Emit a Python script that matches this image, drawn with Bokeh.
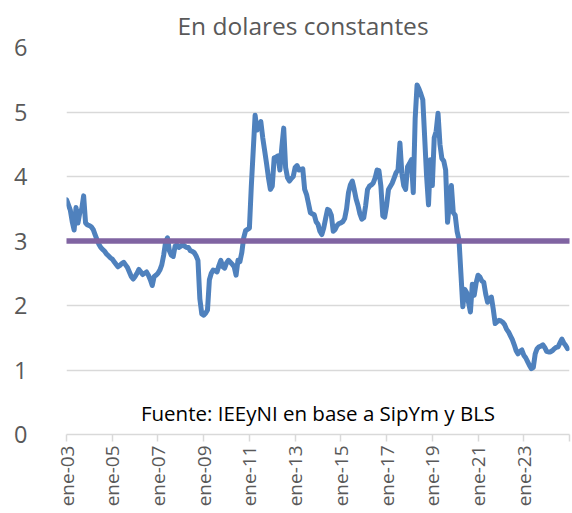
import math
from bokeh.plotting import figure
from bokeh.models import Range1d, FixedTicker, Label, ColumnDataSource
from bokeh.embed import file_html
from bokeh.resources import INLINE

title_text = "En dolares constantes"
source_text = "Fuente: IEEyNI en base a SipYm y BLS"
start_year = 2003
end_year = 2025
tick_labels = ["ene-03", "ene-05", "ene-07", "ene-09", "ene-11", "ene-13",
               "ene-15", "ene-17", "ene-19", "ene-21", "ene-23", ""]
y_ticks = [0, 1, 2, 3, 4, 5, 6]
threshold = 3.0

# monthly values, Jan..Dec
v2003 = [3.64, 3.56, 3.48, 3.30, 3.17, 3.52, 3.28, 3.44, 3.50, 3.70, 3.28, 3.25]
v2004 = [3.24, 3.22, 3.18, 3.10, 3.02, 2.95, 2.90, 2.87, 2.84, 2.80, 2.77, 2.74]
v2005 = [2.72, 2.68, 2.64, 2.60, 2.62, 2.65, 2.67, 2.63, 2.59, 2.52, 2.45, 2.41]
v2006 = [2.45, 2.50, 2.56, 2.52, 2.48, 2.50, 2.52, 2.47, 2.40, 2.31, 2.45, 2.47]
v2007 = [2.50, 2.55, 2.63, 2.78, 2.98, 3.05, 2.85, 2.78, 2.76, 2.92, 2.94, 2.90]
v2008 = [2.92, 2.95, 2.92, 2.90, 2.90, 2.85, 2.84, 2.82, 2.77, 2.70, 2.10, 1.87]
v2009 = [1.85, 1.88, 1.93, 2.40, 2.50, 2.55, 2.54, 2.52, 2.62, 2.70, 2.60, 2.58]
v2010 = [2.66, 2.70, 2.67, 2.64, 2.60, 2.47, 2.70, 2.68, 2.82, 3.05, 3.16, 3.18]
v2011 = [3.20, 3.85, 4.40, 4.95, 4.72, 4.78, 4.85, 4.60, 4.40, 4.20, 3.98, 3.80]
v2012 = [3.85, 4.29, 4.30, 4.32, 4.10, 4.45, 4.75, 4.14, 3.98, 3.93, 3.97, 4.00]
v2013 = [4.14, 4.17, 4.10, 4.11, 4.12, 3.80, 3.72, 3.58, 3.44, 3.42, 3.41, 3.30]
v2014 = [3.26, 3.15, 3.10, 3.20, 3.35, 3.49, 3.47, 3.40, 3.15, 3.18, 3.24, 3.27]
v2015 = [3.28, 3.30, 3.35, 3.50, 3.75, 3.87, 3.93, 3.80, 3.65, 3.55, 3.42, 3.34]
v2016 = [3.36, 3.55, 3.80, 3.85, 3.87, 3.90, 3.98, 4.10, 4.09, 3.85, 3.39, 3.37]
v2017 = [3.55, 3.80, 3.85, 3.90, 3.98, 4.06, 4.10, 4.52, 4.05, 3.86, 3.80, 4.15]
v2018 = [4.20, 4.26, 3.75, 4.90, 5.42, 5.36, 5.28, 5.19, 4.60, 4.00, 3.56, 4.26]
v2019 = [3.86, 4.60, 4.70, 4.98, 4.50, 4.28, 4.24, 4.10, 3.29, 3.60, 3.86, 3.44]
v2020 = [3.40, 3.15, 3.02, 2.50, 1.98, 2.25, 2.20, 2.05, 1.90, 2.33, 2.16, 2.35]
v2021 = [2.47, 2.44, 2.38, 2.36, 2.18, 2.05, 2.10, 2.13, 1.94, 1.72, 1.75, 1.77]
v2022 = [1.76, 1.74, 1.70, 1.63, 1.59, 1.53, 1.47, 1.39, 1.30, 1.25, 1.29, 1.31]
v2023 = [1.23, 1.19, 1.13, 1.07, 1.02, 1.04, 1.25, 1.33, 1.36, 1.37, 1.39, 1.35]
v2024 = [1.29, 1.28, 1.28, 1.30, 1.33, 1.35, 1.36, 1.42, 1.48, 1.42, 1.38, 1.33]

series = (v2003 + v2004 + v2005 + v2006 + v2007 + v2008 + v2009 + v2010 +
          v2011 + v2012 + v2013 + v2014 + v2015 + v2016 + v2017 + v2018 +
          v2019 + v2020 + v2021 + v2022 + v2023 + v2024)
months = list(range(len(series)))
n_months = (end_year - start_year) * 12
tick_pos = list(range(0, n_months + 1, 24))

FONT = "Open Sans"
GRAY = "#595959"
GRID = "#d9d9d9"

p = figure(width=572, height=513, output_backend="svg", toolbar_location=None,
           x_range=Range1d(0, n_months), y_range=Range1d(0, 6),
           min_border_left=66, min_border_right=3, min_border_top=45,
           min_border_bottom=79)
p.outline_line_color = None
p.background_fill_color = "white"
p.border_fill_color = "white"

p.title.text = title_text
p.title.align = "left"
p.title.offset = 111
p.title.standoff = 12
p.title.text_font = FONT
p.title.text_font_size = "24.5px"
p.title.text_font_style = "normal"
p.title.text_color = GRAY

p.xgrid.grid_line_color = None
p.ygrid.grid_line_color = GRID
p.ygrid.grid_line_width = 1.5
p.ygrid.ticker = FixedTicker(ticks=y_ticks)

p.yaxis.ticker = FixedTicker(ticks=y_ticks)
p.yaxis.axis_line_color = None
p.yaxis.major_tick_line_color = None
p.yaxis.minor_tick_line_color = None
p.yaxis.major_label_text_font = FONT
p.yaxis.major_label_text_font_size = "23.5px"
p.yaxis.major_label_text_color = GRAY
p.yaxis.major_label_standoff = 33

p.xaxis.ticker = FixedTicker(ticks=tick_pos)
p.xaxis.major_label_overrides = {t: lab for t, lab in zip(tick_pos, tick_labels)}
p.xaxis.axis_line_color = GRID
p.xaxis.axis_line_width = 1.5
p.xaxis.major_tick_line_color = GRID
p.xaxis.major_tick_line_width = 1.5
p.xaxis.major_tick_in = 0
p.xaxis.major_tick_out = 7
p.xaxis.minor_tick_line_color = None
p.xaxis.major_label_orientation = math.pi / 2
p.xaxis.major_label_text_font = FONT
p.xaxis.major_label_text_font_size = "19px"
p.xaxis.major_label_text_color = GRAY
p.xaxis.major_label_standoff = 4

src = ColumnDataSource(dict(x=months, y=series))
p.line("x", "y", source=src, line_color="#4f81bd", line_width=5,
       line_join="round", line_cap="round")

p.line([0, n_months], [threshold, threshold], line_color="#8064a2",
       line_width=5.5, line_cap="round")

lab = Label(x=n_months / 2, y=0.33, text=source_text, text_align="center",
            text_baseline="middle", text_font=FONT, text_font_size="20.5px",
            text_color="black")
p.add_layout(lab)

open("out.html", "w").write(file_html(p, INLINE))
